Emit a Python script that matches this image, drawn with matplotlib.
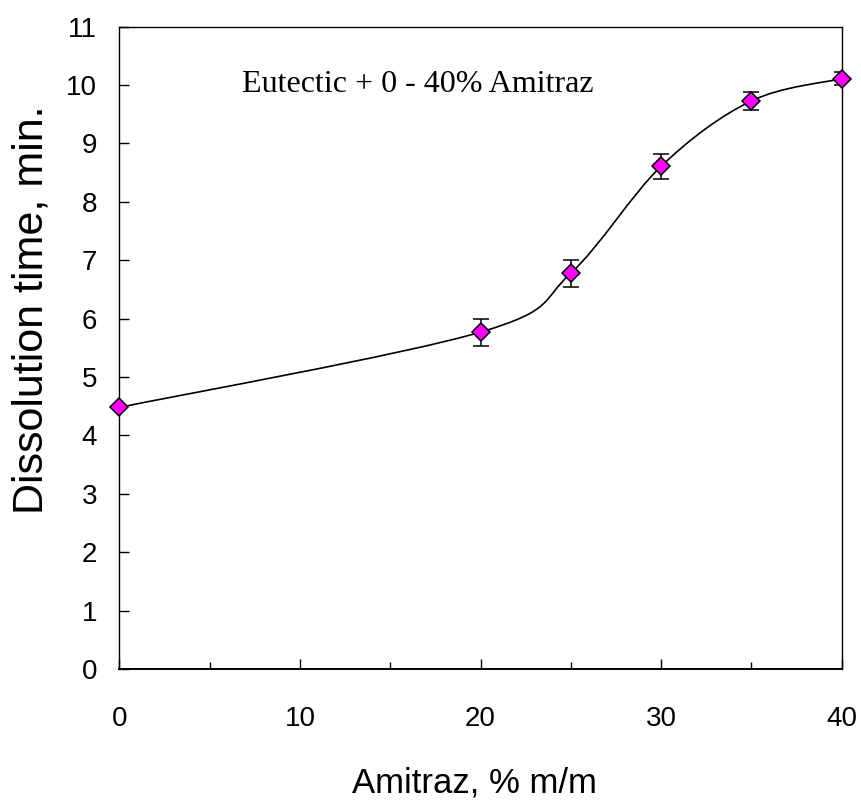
import numpy as np
import matplotlib
matplotlib.use("Agg")
import matplotlib.pyplot as plt
from matplotlib.path import Path
from matplotlib.patches import PathPatch
from matplotlib.ticker import MultipleLocator

# Amitraz content (% m/m) and dissolution time (min)
amitraz = [0, 20, 25, 30, 35, 40]
diss_time = [4.48, 5.77, 6.78, 8.61, 9.73, 10.11]
diss_err = [0.0, 0.23, 0.23, 0.21, 0.16, 0.11]

annotation = "Eutectic + 0 - 40% Amitraz"

fig = plt.figure(figsize=(8.61, 8.0), dpi=100)
ax = fig.add_axes([0.1386, 0.16375, 0.839, 0.80285])
ax.set_xlim(0, 40)
ax.set_ylim(0, 11)

# smoothed line (Excel-style Catmull-Rom bezier in screen space)
pts = ax.transData.transform(np.column_stack([amitraz, diss_time]))
verts = [pts[0]]
codes = [Path.MOVETO]
n = len(pts)
for i in range(n - 1):
    p0 = pts[max(i - 1, 0)]
    p1 = pts[i]
    p2 = pts[i + 1]
    p3 = pts[min(i + 2, n - 1)]
    c1 = p1 + (p2 - p0) / 6.0
    c2 = p2 - (p3 - p1) / 6.0
    verts += [c1, c2, p2]
    codes += [Path.CURVE4] * 3
verts = ax.transData.inverted().transform(np.array(verts))
ax.add_patch(PathPatch(Path(verts, codes), facecolor="none", edgecolor="black",
                       lw=1.2, zorder=2))

ax.errorbar(amitraz, diss_time, yerr=diss_err, fmt="none", ecolor="black",
            elinewidth=1.1, capsize=5.5, capthick=1.1, zorder=3)
ax.plot(amitraz, diss_time, linestyle="none", marker="D", markersize=9,
        markerfacecolor="#ff00ff", markeredgecolor="black",
        markeredgewidth=1.1, zorder=4, clip_on=False)

ax.text(6.79, 9.88, annotation, family="Liberation Serif", fontsize=23,
        ha="left", va="baseline")

ax.xaxis.set_major_locator(MultipleLocator(10))
ax.xaxis.set_minor_locator(MultipleLocator(5))
ax.yaxis.set_major_locator(MultipleLocator(1))
ax.tick_params(axis="x", which="major", direction="in", length=7.5, width=1,
               pad=27, labelsize=20)
ax.tick_params(axis="x", which="minor", direction="in", length=4.8, width=1)
ax.tick_params(axis="y", which="major", direction="in", length=7, width=1,
               pad=16, labelsize=20)
for lbl in ax.get_xticklabels() + ax.get_yticklabels():
    lbl.set_family("Liberation Sans")

for s in ax.spines.values():
    s.set_linewidth(1.0)
ax.spines["bottom"].set_linewidth(1.4)

ax.set_xlabel("Amitraz, % m/m", family="Liberation Sans", fontsize=25)
ax.set_ylabel("Dissolution time, min.", family="Liberation Sans", fontsize=31)
ax.xaxis.set_label_coords(0.492, -0.152)
ax.yaxis.set_label_coords(-0.094, 0.559)

fig.savefig("out.png", dpi=100)
